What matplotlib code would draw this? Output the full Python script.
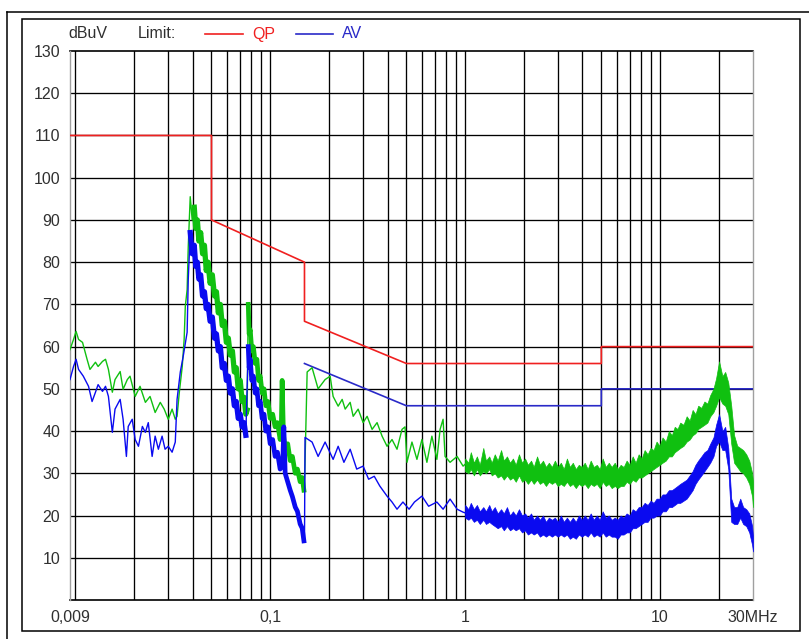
import matplotlib.pyplot as plt
from matplotlib.lines import Line2D
from matplotlib.patches import Rectangle

plt.rcParams['font.family'] = ['Liberation Sans', 'DejaVu Sans']

# limit lines (QP / AV), MHz vs dBuV
qp_lim_f = [0.009, 0.05, 0.05, 0.15, 0.15, 0.5, 5, 5, 30]
qp_lim_db = [110, 110, 90, 80, 66, 56, 56, 60, 60]
av_lim_f = [0.15, 0.5, 5, 5, 30]
av_lim_db = [56, 46, 46, 50, 50]

# ---- green trace ----
# 9-40 kHz (sparse)
g1_f = [0.0094, 0.0098, 0.0101, 0.0104, 0.0109, 0.0115, 0.0119, 0.0127, 0.0131,
        0.0138, 0.0143, 0.0148, 0.0155, 0.0160, 0.0170, 0.0176, 0.0185, 0.0191,
        0.0203, 0.0215, 0.0229, 0.0242, 0.0257, 0.0273, 0.0286, 0.0300, 0.0314,
        0.0326, 0.0333, 0.0342, 0.0354, 0.0362, 0.0367, 0.0375, 0.0380, 0.0389,
        0.0398, 0.0408]
g1_db = [59.3, 61.7, 63.6, 61.7, 61.0, 57.0, 54.6, 56.3, 55.3,
         56.5, 57.0, 54.6, 49.2, 52.2, 54.1, 49.9, 52.2, 53.0,
         48.2, 50.6, 46.8, 48.2, 44.4, 46.8, 45.2, 42.8, 45.2,
         42.8, 43.5, 49.2, 55.3, 61.7, 69.5, 73.5, 83.7, 95.5,
         90.0, 93.0]
# 40-76 kHz (dense, first slope)
g2_f = [0.0408, 0.0415, 0.0423, 0.0431, 0.0440, 0.0450, 0.0460, 0.0470, 0.0480,
        0.0492, 0.0505, 0.0518, 0.0530, 0.0542, 0.0555, 0.0568, 0.0582, 0.0596,
        0.0610, 0.0624, 0.0640, 0.0655, 0.0670, 0.0686, 0.0702, 0.0718, 0.0735,
        0.0750, 0.0762]
g2_db = [93, 88, 90, 85, 87, 82, 84, 78, 80,
         75, 77, 72, 73, 68, 70, 65, 66, 61,
         62, 58, 59, 54, 55, 50, 52, 47, 48,
         44, 45]
# 77-150 kHz (dense, second slope)
g3_f = [0.0772, 0.0780, 0.0790, 0.0805, 0.0820, 0.0838, 0.0855, 0.0872, 0.0889,
        0.0910, 0.0930, 0.0950, 0.0975, 0.1000, 0.1030, 0.1060, 0.1090, 0.1125,
        0.1140, 0.1152, 0.1170, 0.1194, 0.1230, 0.1267, 0.1300, 0.1345, 0.1380,
        0.1425, 0.1460, 0.1490]
g3_db = [70, 63, 64, 59, 60, 56, 57, 52, 53,
         49, 50, 46, 47, 43, 44, 41, 42, 38,
         40, 52, 39, 36, 37, 33, 34, 30, 31,
         28, 29, 26]
# 0.15-1 MHz (sparse)
g4_f = [0.1500, 0.1548, 0.1641, 0.1762, 0.1914, 0.2031, 0.2104, 0.2233, 0.2341,
        0.2426, 0.2573, 0.2666, 0.2828, 0.2999, 0.3144, 0.3334, 0.3536, 0.3751,
        0.3978, 0.4219, 0.4475, 0.4746, 0.4920, 0.5034, 0.5339, 0.5662, 0.6006,
        0.6370, 0.6756, 0.7166, 0.7443, 0.7712, 0.7896, 0.8375, 0.9099, 0.9767,
        1.02]
g4_db = [27.0, 54.0, 55.0, 50.0, 52.2, 53.0, 48.2, 45.9, 47.5,
         45.2, 46.8, 43.5, 45.2, 42.0, 43.5, 40.4, 42.0, 38.8,
         36.4, 38.0, 35.7, 40.4, 41.0, 32.6, 37.4, 33.3, 38.0,
         32.6, 38.8, 33.3, 40.4, 42.8, 34.0, 32.6, 34.0, 31.7,
         32.5]

# 1-30 MHz, dense scan drawn as a band (upper / lower edge)
band_f = [1.00, 1.04, 1.07, 1.11, 1.15, 1.19, 1.24, 1.28, 1.33, 1.37,
          1.42, 1.47, 1.53, 1.58, 1.64, 1.70, 1.76, 1.82, 1.89, 1.96,
          2.03, 2.10, 2.18, 2.25, 2.34, 2.42, 2.51, 2.60, 2.69, 2.79,
          2.89, 2.99, 3.10, 3.21, 3.33, 3.45, 3.57, 3.70, 3.83, 3.97,
          4.11, 4.26, 4.41, 4.57, 4.74, 4.91, 5.08, 5.27, 5.46, 5.65,
          5.86, 6.07, 6.28, 6.51, 6.74, 6.99, 7.24, 7.50, 7.77, 8.05,
          8.34, 8.64, 8.95, 9.27, 9.60, 9.95, 10.3, 10.7, 11.1, 11.5,
          11.9, 12.3, 12.7, 13.2, 13.7, 14.2, 14.7, 15.2, 15.7, 16.3,
          16.9, 17.5, 18.1, 18.8, 19.4, 20.1, 20.9, 21.6, 22.4, 23.2,
          24.0, 24.9, 25.8, 26.7, 27.7, 28.7, 29.7, 30.0]
g_hi = [33.5, 32.5, 35.0, 32.5, 34.0, 32.0, 36.0, 33.0, 34.0, 32.5,
        34.5, 33.0, 35.5, 33.0, 34.0, 32.5, 33.5, 32.0, 34.5, 32.5,
        33.5, 32.0, 33.0, 31.5, 34.0, 32.0, 33.0, 31.5, 32.5, 31.5,
        33.0, 31.5, 32.5, 31.0, 33.5, 31.5, 32.5, 31.0, 32.0, 31.5,
        32.5, 31.0, 33.0, 31.5, 32.0, 31.0, 33.5, 31.5, 32.5, 31.5,
        32.5, 31.0, 32.0, 31.5, 33.0, 32.0, 34.0, 32.5, 34.5, 33.5,
        35.5, 34.5, 36.0, 35.5, 37.5, 36.5, 38.5, 37.5, 40.0, 39.0,
        41.0, 40.5, 42.0, 41.5, 43.5, 42.5, 45.0, 44.0, 46.0, 45.5,
        47.0, 46.5, 48.5, 50.0, 52.5, 56.5, 53.0, 54.0, 51.5, 46.0,
        39.0, 36.5, 36.0, 35.5, 34.5, 33.0, 30.0, 28.0]
g_lo = [30.5, 30.0, 31.0, 29.5, 31.0, 29.5, 30.5, 30.0, 31.0, 29.5,
        30.0, 29.0, 29.5, 28.5, 29.5, 28.5, 29.0, 28.0, 29.5, 28.0,
        28.5, 27.5, 28.5, 27.5, 28.5, 27.5, 28.0, 27.0, 28.0, 27.5,
        28.0, 27.0, 27.5, 27.0, 28.0, 27.0, 27.5, 26.5, 27.5, 27.0,
        27.5, 26.5, 27.5, 27.0, 27.5, 26.5, 28.0, 27.0, 27.5, 26.5,
        27.0, 26.5, 27.0, 27.0, 28.0, 27.5, 28.5, 28.0, 29.0, 29.0,
        29.5, 30.0, 30.5, 31.0, 31.5, 32.0, 32.5, 33.0, 34.0, 34.0,
        35.0, 35.5, 36.0, 36.5, 37.5, 38.0, 39.0, 39.5, 40.5, 41.0,
        41.5, 42.0, 43.5, 44.5, 46.0, 48.0, 46.5, 46.0, 44.0, 37.0,
        32.5, 31.5, 30.5, 30.0, 29.0, 27.5, 24.5, 22.0]

# ---- blue trace ----
b1_f = [0.0094, 0.0098, 0.0101, 0.0104, 0.0110, 0.0117, 0.0122, 0.0127, 0.0131,
        0.0138, 0.0143, 0.0148, 0.0155, 0.0160, 0.0170, 0.0176, 0.0183, 0.0187,
        0.0196, 0.0203, 0.0211, 0.0221, 0.0229, 0.0237, 0.0248, 0.0257, 0.0267,
        0.0279, 0.0289, 0.0300, 0.0314, 0.0326, 0.0333, 0.0346, 0.0358, 0.0375,
        0.0380, 0.0389]
b1_db = [52.2, 55.3, 57.0, 54.6, 53.0, 50.6, 47.0, 49.2, 51.0,
         49.4, 50.6, 48.2, 39.7, 45.2, 47.5, 42.8, 34.0, 41.1,
         42.8, 38.0, 36.4, 41.1, 39.7, 42.0, 34.0, 38.8, 35.7,
         38.8, 35.7, 36.4, 35.0, 37.4, 47.5, 54.0, 57.7, 63.4,
         75.9, 87.0]
b2_f = [0.0389, 0.0398, 0.0408, 0.0415, 0.0423, 0.0431, 0.0440, 0.0450, 0.0460,
        0.0470, 0.0480, 0.0492, 0.0505, 0.0518, 0.0530, 0.0542, 0.0555, 0.0568,
        0.0582, 0.0596, 0.0610, 0.0624, 0.0640, 0.0655, 0.0670, 0.0686, 0.0702,
        0.0718, 0.0735, 0.0750]
b2_db = [87, 82, 84, 79, 80, 76, 77, 72, 73,
         69, 70, 66, 67, 62, 63, 59, 60, 55,
         56, 52, 53, 49, 50, 46, 47, 43, 44,
         41, 42, 39]
b3_f = [0.0772, 0.0780, 0.0790, 0.0805, 0.0820, 0.0838, 0.0855, 0.0872, 0.0889,
        0.0910, 0.0930, 0.0950, 0.0975, 0.1000, 0.1030, 0.1060, 0.1090, 0.1125,
        0.1160, 0.1175, 0.1194, 0.1230, 0.1267, 0.1300, 0.1345, 0.1380, 0.1425,
        0.1460, 0.1490]
b3_db = [60, 55, 57, 52, 53, 49, 50, 46, 47,
         43, 44, 40, 41, 37, 38, 34, 35, 31,
         32, 41, 30, 28, 26, 24.5, 22, 21, 18,
         17, 14]
b4_f = [0.1500, 0.1510, 0.1641, 0.1762, 0.1914, 0.2104, 0.2233, 0.2390, 0.2573,
        0.2780, 0.2999, 0.3200, 0.3420, 0.3650, 0.3978, 0.4219, 0.4475, 0.4800,
        0.5160, 0.5500, 0.6006, 0.6500, 0.7166, 0.7712, 0.8375, 0.9099, 0.9767,
        1.02]
b4_db = [14.0, 38.5, 37.4, 34.0, 37.4, 33.3, 36.4, 32.6, 35.7,
         31.0, 31.7, 28.6, 29.3, 27.0, 24.6, 23.2, 21.5, 23.2,
         21.5, 23.2, 24.6, 22.2, 23.2, 21.5, 23.9, 21.5, 20.8,
         20.5]
b_hi = [22.5, 21.5, 23.0, 21.5, 22.5, 21.0, 22.0, 21.0, 22.5, 21.0,
        22.0, 20.5, 21.5, 20.5, 22.0, 20.0, 21.0, 20.0, 21.5, 20.0,
        20.5, 19.5, 20.5, 19.0, 20.0, 19.0, 20.0, 18.5, 19.5, 19.0,
        19.5, 18.5, 20.0, 18.5, 19.5, 18.5, 19.5, 18.5, 20.0, 19.0,
        20.0, 19.0, 20.5, 19.0, 20.0, 19.0, 21.0, 19.5, 20.0, 19.0,
        19.5, 19.0, 20.0, 19.5, 20.5, 20.0, 21.5, 21.0, 22.0, 22.0,
        23.0, 22.5, 23.5, 23.0, 24.0, 24.0, 25.0, 25.0, 26.0, 26.0,
        26.5, 27.0, 27.5, 28.0, 28.5, 29.5, 30.5, 32.0, 33.0, 34.0,
        35.0, 35.5, 37.0, 38.5, 41.5, 44.0, 40.0, 41.0, 36.0, 24.0,
        22.0, 22.0, 24.0, 22.0, 21.5, 20.5, 17.5, 15.0]
b_lo = [19.5, 19.0, 19.5, 18.5, 19.0, 18.0, 19.0, 18.0, 18.5, 18.0,
        17.5, 17.0, 17.5, 16.5, 17.5, 16.5, 17.0, 16.5, 17.0, 16.0,
        16.5, 15.5, 16.0, 15.5, 16.0, 15.0, 15.5, 15.0, 15.5, 15.0,
        15.5, 15.0, 15.5, 15.0, 15.5, 14.5, 15.0, 14.5, 15.5, 15.0,
        15.5, 15.0, 16.0, 15.0, 15.5, 15.0, 16.0, 15.0, 15.5, 15.0,
        15.0, 14.5, 15.5, 15.5, 16.0, 16.0, 17.0, 17.0, 17.5, 18.0,
        18.5, 18.5, 19.5, 19.5, 20.0, 20.0, 21.0, 21.0, 22.0, 22.0,
        22.5, 23.0, 23.0, 23.5, 24.0, 25.0, 26.0, 27.5, 28.5, 29.5,
        30.5, 31.5, 32.5, 34.0, 36.5, 37.5, 35.5, 35.5, 31.0, 18.5,
        18.0, 18.0, 19.5, 18.0, 17.5, 16.0, 13.0, 11.5]

x_grid = [0.01, 0.02, 0.03, 0.04, 0.05, 0.06, 0.07, 0.08, 0.09,
          0.1, 0.2, 0.3, 0.4, 0.5, 0.6, 0.7, 0.8, 0.9,
          1, 2, 3, 4, 5, 6, 7, 8, 9, 10, 20]
y_ticks = [10, 20, 30, 40, 50, 60, 70, 80, 90, 100, 110, 120, 130]
x_ticks = [0.0094, 0.1, 1, 10, 30]
x_labels = ['0,009', '0,1', '1', '10', '30MHz']

GREEN = '#10c010'
BLUE = '#0a0af0'
RED = '#f02020'
LBLUE = '#2a2ac8'
TXT = '#303030'

W, H = 809, 639
fig = plt.figure(figsize=(W / 100, H / 100), dpi=100)
ax = fig.add_axes([70 / W, 1 - 600 / H, (753 - 70) / W, (600 - 51) / H])
ax.set_xscale('log')
ax.set_xlim(0.0094, 30)
ax.set_ylim(0, 130)

for g in x_grid:
    ax.axvline(g, color='k', lw=0.95, zorder=1)
for v in y_ticks[:-1]:
    ax.axhline(v, color='k', lw=0.95, zorder=1)
ax.axhline(0, color='k', lw=1.2, zorder=1, clip_on=False)
ax.axhline(130, color='k', lw=1.2, zorder=1, clip_on=False)

ax.plot(qp_lim_f, qp_lim_db, color=RED, lw=1.2, zorder=3)
ax.plot(av_lim_f, av_lim_db, color=LBLUE, lw=1.2, zorder=3)

# green
ax.plot(g1_f + g2_f + g3_f + g4_f, g1_db + g2_db + g3_db + g4_db,
        color=GREEN, lw=1.0, zorder=4)
ax.plot(g2_f, g2_db, color=GREEN, lw=3.8, zorder=4)
ax.plot(g3_f, g3_db, color=GREEN, lw=3.4, zorder=4)
ax.fill_between(band_f, g_lo, g_hi, color=GREEN, lw=0.5, zorder=4)
# blue
ax.plot(b1_f + b2_f + b3_f + b4_f, b1_db + b2_db + b3_db + b4_db,
        color=BLUE, lw=1.0, zorder=5)
ax.plot(b2_f, b2_db, color=BLUE, lw=3.8, zorder=5)
ax.plot(b3_f, b3_db, color=BLUE, lw=3.4, zorder=5)
ax.fill_between(band_f, b_lo, b_hi, color=BLUE, lw=0.5, zorder=5)

ax.set_yticks(y_ticks)
ax.set_yticklabels([str(v) for v in y_ticks])
ax.set_xticks(x_ticks)
ax.set_xticklabels(x_labels)
ax.minorticks_off()
ax.tick_params(length=0, labelsize=11.5, labelcolor=TXT)
ax.tick_params(axis='y', pad=7)
ax.tick_params(axis='x', pad=7)
for s in ['left', 'right']:
    ax.spines[s].set_color('#a0a0a0')
    ax.spines[s].set_linewidth(1.0)
for s in ['top', 'bottom']:
    ax.spines[s].set_visible(False)

# header: unit and limit legend
hy = 1 - 34 / H
fig.text(68 / W, hy, 'dBuV', fontsize=11.5, color=TXT, va='center')
fig.text(138 / W, hy, 'Limit:', fontsize=11.5, color=TXT, va='center')
fig.add_artist(Line2D([205 / W, 243 / W], [hy, hy], color=RED, lw=1.2))
fig.text(252 / W, hy, 'QP', fontsize=11.5, color=RED, va='center')
fig.add_artist(Line2D([296 / W, 333 / W], [hy, hy], color=LBLUE, lw=1.2))
fig.text(342 / W, hy, 'AV', fontsize=11.5, color=LBLUE, va='center')

# frames
fig.add_artist(Rectangle((22 / W, 1 - 631 / H), (800 - 22) / W, (631 - 19) / H,
                         fill=False, ec='k', lw=1.1, transform=fig.transFigure))
fig.add_artist(Line2D([7 / W, 1], [1 - 12 / H, 1 - 12 / H], color='k', lw=1.1))
fig.add_artist(Line2D([7 / W, 7 / W], [0, 1 - 12 / H], color='k', lw=1.1))

fig.savefig('out.png', dpi=100)
